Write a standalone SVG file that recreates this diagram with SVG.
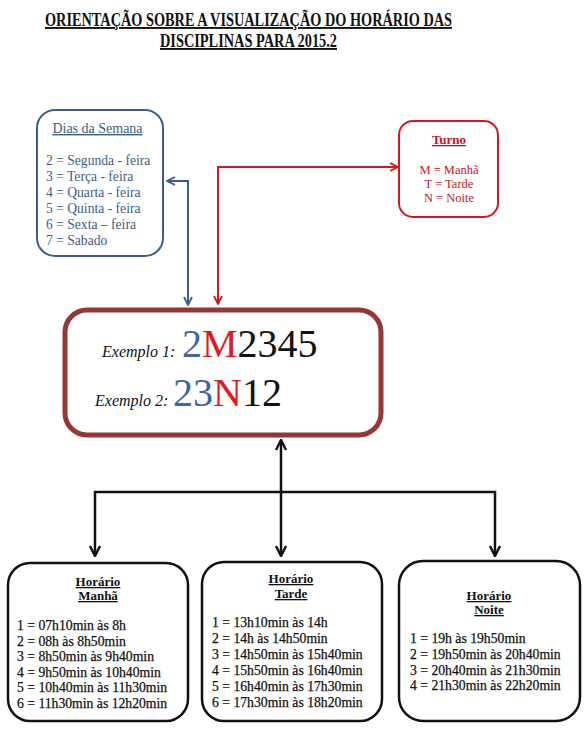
<svg xmlns="http://www.w3.org/2000/svg" width="588" height="732" viewBox="0 0 588 732" font-family="'Liberation Serif','DejaVu Serif','Noto Serif',serif">
<style>
text{font-family:"Liberation Serif","DejaVu Serif","Noto Serif",serif}
.title{font-size:19px;font-weight:bold;fill:#111;text-decoration:underline}
.blue{fill:#3C5C86}
.red{fill:#C8141E}
.hd{font-weight:bold;text-decoration:underline;text-anchor:middle;font-size:13px;fill:#111}
.ln{font-size:13.7px;fill:#111;stroke:#111;stroke-width:0.25}
.big{font-size:40px}
.ex{font-size:16px;font-style:italic;fill:#111}
.box{fill:#fff}
.conn{fill:none;stroke-linejoin:miter}
</style>
<defs>
<marker id="ab" viewBox="0 0 10 10" refX="9" refY="5" markerWidth="10" markerHeight="10" markerUnits="userSpaceOnUse" orient="auto-start-reverse"><path d="M1,1 L9,5 L1,9" fill="none" stroke="#3C5C8C" stroke-width="1.8"/></marker>
<marker id="ar" viewBox="0 0 10 10" refX="9" refY="5" markerWidth="10" markerHeight="10" markerUnits="userSpaceOnUse" orient="auto-start-reverse"><path d="M1,1 L9,5 L1,9" fill="none" stroke="#D9141E" stroke-width="1.8"/></marker>
<marker id="ak" viewBox="0 0 12 12" refX="11" refY="6" markerWidth="12" markerHeight="12" markerUnits="userSpaceOnUse" orient="auto-start-reverse"><path d="M1,1 L11,6 L1,11" fill="none" stroke="#111" stroke-width="2.4"/></marker>
</defs>
<rect width="588" height="732" fill="#fff"/>
<g id="title">
<text class="title" x="248.5" y="26" text-anchor="middle" textLength="407" lengthAdjust="spacingAndGlyphs">ORIENTAÇÃO SOBRE A VISUALIZAÇÃO DO HORÁRIO DAS</text>
<text class="title" x="248.5" y="47" text-anchor="middle" textLength="177" lengthAdjust="spacingAndGlyphs">DISCIPLINAS PARA 2015.2</text>
</g>
<g id="connectors" class="conn">
<path d="M188,305 V181 H167" stroke="#3C5C8C" stroke-width="2" fill="none" marker-start="url(#ab)" marker-end="url(#ab)"/>
<path d="M218,304 V167 H398" stroke="#D9141E" stroke-width="2" fill="none" marker-start="url(#ar)" marker-end="url(#ar)"/>
<path d="M281,440 V556" stroke="#111" stroke-width="2.5" fill="none" marker-start="url(#ak)" marker-end="url(#ak)"/>
<path d="M95,556 V492 H495 V556" stroke="#111" stroke-width="2.5" fill="none" marker-start="url(#ak)" marker-end="url(#ak)"/>
</g>
<g id="dias">
<rect class="box" x="37" y="110" width="126" height="146" rx="18" stroke="#3C5C8C" stroke-width="2"/>
<text class="blue" x="97.5" y="133" font-size="14" text-anchor="middle" text-decoration="underline">Dias da Semana</text>
<g class="blue" font-size="13.6">
<text x="46" y="165">2 = Segunda - feira</text>
<text x="46" y="181">3 = Terça - feira</text>
<text x="46" y="197">4 = Quarta - feira</text>
<text x="46" y="213">5 = Quinta - feira</text>
<text x="46" y="229">6 = Sexta – feira</text>
<text x="46" y="245">7 = Sabado</text>
</g>
</g>
<g id="turno">
<rect class="box" x="399" y="121" width="99" height="96" rx="14" stroke="#D9141E" stroke-width="2"/>
<text class="red" x="449" y="144" font-size="13" font-weight="bold" text-anchor="middle" text-decoration="underline">Turno</text>
<g class="red" font-size="12.5" text-anchor="middle">
<text x="449" y="174">M = Manhã</text>
<text x="449" y="188">T = Tarde</text>
<text x="449" y="202">N = Noite</text>
</g>
</g>
<g id="exemplo">
<rect class="box" x="65" y="310" width="316" height="125" rx="22" stroke="#953735" stroke-width="5"/>
<text class="ex" x="102" y="357">Exemplo 1:</text>
<text class="big" x="182" y="357"><tspan fill="#3E66A0">2</tspan><tspan fill="#E01B22">M</tspan><tspan fill="#111">2345</tspan></text>
<text class="ex" x="95" y="406">Exemplo 2:</text>
<text class="big" x="173" y="406"><tspan fill="#3E66A0">23</tspan><tspan fill="#E01B22">N</tspan><tspan fill="#111">12</tspan></text>
</g>
<g id="manha">
<rect class="box" x="8" y="563" width="180" height="158" rx="22" stroke="#111" stroke-width="2.5"/>
<text class="hd" x="98" y="586">Horário</text>
<text class="hd" x="98" y="600">Manhã</text>
<text class="ln" x="17" y="630">1 = 07h10min às 8h</text>
<text class="ln" x="17" y="645.5">2 = 08h às 8h50min</text>
<text class="ln" x="17" y="661">3 = 8h50min às 9h40min</text>
<text class="ln" x="17" y="676.5">4 = 9h50min às 10h40min</text>
<text class="ln" x="17" y="692">5 = 10h40min às 11h30min</text>
<text class="ln" x="17" y="707.5">6 = 11h30min às 12h20min</text>
</g>
<g id="tarde">
<rect class="box" x="202" y="562" width="180" height="159" rx="22" stroke="#111" stroke-width="2.5"/>
<text class="hd" x="291" y="583">Horário</text>
<text class="hd" x="291" y="598">Tarde</text>
<text class="ln" x="212" y="627">1 = 13h10min às 14h</text>
<text class="ln" x="212" y="643">2 = 14h às 14h50min</text>
<text class="ln" x="212" y="659">3 = 14h50min às 15h40min</text>
<text class="ln" x="212" y="675">4 = 15h50min às 16h40min</text>
<text class="ln" x="212" y="691">5 = 16h40min às 17h30min</text>
<text class="ln" x="212" y="707">6 = 17h30min às 18h20min</text>
</g>
<g id="noite">
<rect class="box" x="399" y="561" width="181" height="160" rx="24" stroke="#111" stroke-width="2.5"/>
<text class="hd" x="489" y="600">Horário</text>
<text class="hd" x="489" y="614">Noite</text>
<text class="ln" x="410" y="643">1 = 19h às 19h50min</text>
<text class="ln" x="410" y="659">2 = 19h50min às 20h40min</text>
<text class="ln" x="410" y="675">3 = 20h40min às 21h30min</text>
<text class="ln" x="410" y="690">4 = 21h30min às 22h20min</text>
</g>
</svg>
